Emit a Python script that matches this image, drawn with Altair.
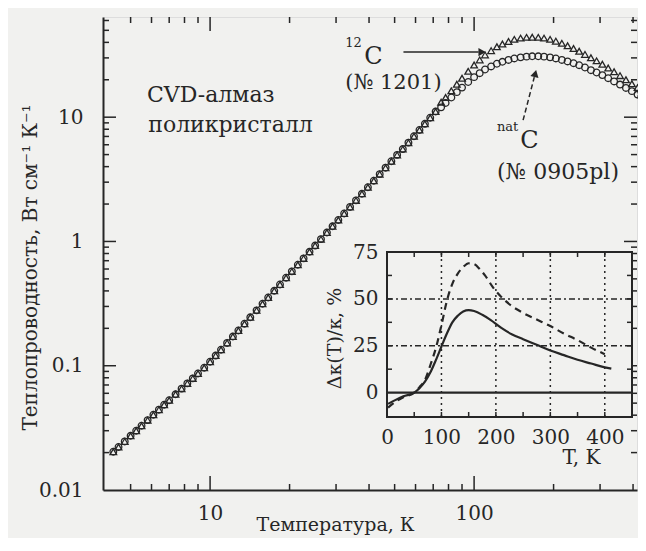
import altair as alt
import pandas as pd

SERIF = "DejaVu Serif, Liberation Serif, serif"
INK = "#262626"
BG = "#f1f1ef"

# ---------------- main plot: thermal conductivity vs temperature ----------------
# region where both samples coincide (T, K ; kappa, W cm^-1 K^-1)
T_low = [4.3, 4.5, 4.75, 5.0, 5.25, 5.5, 5.8, 6.1, 6.4, 6.7,
         7.0, 7.4, 7.8, 8.2, 8.6, 9.0, 9.5,
         10.0, 10.5, 11.0, 11.6, 12.2, 12.8, 13.5, 14.2, 15.0, 15.8,
         16.6, 17.5, 18.4, 19.4, 20.4, 21.5, 22.6, 23.8, 25.0, 26.3,
         27.7, 29.1, 30.6, 32.2, 33.9, 35.7, 37.6, 39.6, 41.7, 43.9,
         46.2, 48.6, 51.1, 53.7, 56.4, 59.2, 62.1, 65.1, 68.2, 71.5]
k_low = [0.0203, 0.0222, 0.0246, 0.0273, 0.0300, 0.0329, 0.0365, 0.0403, 0.0443, 0.0485,
         0.0528, 0.0589, 0.0654, 0.0721, 0.0791, 0.0866, 0.0963,
         0.1076, 0.1207, 0.1346, 0.1526, 0.1717, 0.1922, 0.2178, 0.2453, 0.2790, 0.3152,
         0.3540, 0.4007, 0.4509, 0.5106, 0.5745, 0.6499, 0.7308, 0.8256, 0.9266, 1.044,
         1.179, 1.324, 1.490, 1.680, 1.896, 2.141, 2.418, 2.732, 3.083, 3.481,
         3.924, 4.419, 4.972, 5.538, 6.241, 7.019, 7.884, 8.843, 9.901, 11.10]
# region where the curves separate
T_high = [75, 78, 82, 86, 90, 95, 100, 105, 110, 116, 122, 128, 135, 142, 150, 158, 166, 175,
          184, 194, 204, 215, 226, 238, 250, 263, 277, 291, 306, 322, 339, 357, 376, 396, 416, 430]
k12_high = [13.2, 14.4, 16.3, 18.4, 20.6, 23.4, 26.3, 28.9, 31.7, 34.3, 36.9, 38.8, 40.7, 42.3,
            43.3, 43.9, 44.0, 43.9, 43.3, 42.3, 40.9, 39.3, 37.6, 35.7, 33.9, 32.0, 30.1, 28.4,
            26.7, 24.9, 23.2, 21.6, 20.0, 18.6, 17.3, 16.6]
knat_high = [12.0, 13.0, 14.4, 15.9, 17.3, 19.2, 21.0, 22.6, 24.2, 25.6, 26.9, 27.9, 28.9, 29.7,
             30.3, 30.7, 30.9, 30.9, 30.7, 30.3, 29.7, 28.9, 28.1, 27.2, 26.2, 25.1, 23.9, 22.9,
             21.8, 20.6, 19.4, 18.3, 17.2, 16.2, 15.2, 14.6]

# ---------------- inset: relative difference, % ----------------
ins_T_solid = [2, 15, 30, 50, 60, 70, 80, 90, 100, 110, 120, 130, 140, 150, 160, 175, 190,
               210, 230, 250, 275, 300, 325, 350, 375, 400, 412]
ins_solid = [-6, -4, -2, 0, 2.5, 6, 11, 17.5, 24.6, 31.5, 37.5, 41, 43.3, 44, 43.5, 41.5, 38.8,
             34.5, 31, 28.5, 25.5, 22.5, 20, 17.5, 15.5, 13.5, 12.8]
ins_T_dash = [2, 15, 30, 50, 60, 70, 80, 90, 100, 110, 120, 130, 140, 150, 160, 170, 180,
              195, 210, 230, 250, 275, 300, 325, 350, 375, 400]
ins_dash = [-8, -5, -2.5, 0, 3, 7, 15, 24, 36, 49, 58, 63.5, 67, 69, 68.5, 66, 62.5,
            56, 51, 46, 42.5, 39, 35.5, 31.5, 28, 24, 20.5]

# ---------------- axes / ticks ----------------
x_dom = [3.93, 414]
y_dom = [0.01, 64]
x_labels = [10, 100]
y_labels = [0.01, 0.1, 1, 10]
x_minor = [5, 6, 7, 8, 9, 20, 30, 40, 50, 60, 70, 80, 90, 200, 300, 400]
x_major = [10, 100]
y_minor = [0.02, 0.03, 0.04, 0.05, 0.06, 0.07, 0.08, 0.09,
           0.2, 0.3, 0.4, 0.5, 0.6, 0.7, 0.8, 0.9,
           2, 3, 4, 5, 6, 7, 8, 9, 20, 30, 40, 50, 60]
y_major = [0.1, 1, 10]

ins_x_dom = [0, 450]
ins_y_dom = [-13, 75]
ins_x_labels = [0, 100, 200, 300, 400]
ins_y_labels = [0, 25, 50, 75]
ins_x_ticks = [50, 100, 150, 200, 250, 300, 350, 400]
ins_y_ticks = [12.5, 25, 37.5, 50, 62.5]
ins_vgrid = [100, 200, 300, 400]
ins_hgrid = [25, 50]

# annotations
ann_text = ["CVD-алмаз", "поликристалл", "12", "C", "(№ 1201)", "nat", "C", "(№ 0905pl)"]
ann_T = [5.77, 5.83, 32.5, 38.4, 32.5, 122, 149.5, 122]
ann_k = [15.0, 8.62, 39.5, 30.6, 18.9, 8.3, 6.4, 3.65]
ann_fs = [22, 22, 13, 24, 21, 13, 24, 22]

W, H = 534, 473
IX0, IX1 = 284, 529   # inset pixel range (x)
IY0, IY1 = 400, 235   # inset pixel range (y, bottom -> top)

xs = alt.Scale(type="log", domain=x_dom, nice=False)
ys = alt.Scale(type="log", domain=y_dom, nice=False)
xi = alt.Scale(domain=ins_x_dom, range=[IX0, IX1], nice=False, zero=False)
yi = alt.Scale(domain=ins_y_dom, range=[IY0, IY1], nice=False, zero=False)

common = dict(ticks=False, grid=False, labelFlush=False, labelFont=SERIF, titleFont=SERIF,
              labelColor=INK, titleColor=INK, titleFontWeight="normal",
              titleBaseline="middle")
x_axis = alt.Axis(orient="bottom", values=x_labels, format="~g", domainColor=INK, domainWidth=2,
                  labelFontSize=20, labelPadding=13, title="Температура, К", titleFontSize=19,
                  titleX=232, titleY=34, **common)
y_axis = alt.Axis(orient="left", values=y_labels, format="~g", domainColor=INK, domainWidth=2,
                  labelFontSize=20, labelPadding=20, title="Теплопроводность, Вт см⁻¹ К⁻¹",
                  titleFontSize=20, titleX=-73, titleY=250, **common)
xi_axis = alt.Axis(orient="bottom", offset=-(H - IY0), values=ins_x_labels, domain=False,
                   labelFontSize=20, labelPadding=10, title="T, K", titleFontSize=20,
                   titleX=478, titleY=40, **common)
yi_axis = alt.Axis(orient="left", offset=-IX0, values=ins_y_labels, domain=False,
                   labelFontSize=20, labelPadding=9, title="Δκ(T)/κ, %", titleFontSize=19,
                   titleX=-53, titleY=321, **common)


def MX(f):
    return alt.X(f, scale=xs, axis=x_axis)


def MY(f):
    return alt.Y(f, scale=ys, axis=y_axis)


def IX(f):
    return alt.X(f, scale=xi, axis=xi_axis)


def IY(f):
    return alt.Y(f, scale=yi, axis=yi_axis)


df_nat = pd.DataFrame({"T": T_low + T_high, "k": k_low + knat_high})
df_12 = pd.DataFrame({"T": T_low + T_high, "k": k_low + k12_high})

nat_pts = alt.Chart(df_nat).mark_point(shape="circle", filled=False, size=44, strokeWidth=1.3,
                                       color=INK, opacity=1).encode(x=MX("T:Q"), y=MY("k:Q"))
c12_pts = alt.Chart(df_12).mark_point(shape="triangle-up", filled=False, size=44, strokeWidth=1.3,
                                      color=INK, opacity=1).encode(x=MX("T:Q"), y=MY("k:Q"))

main_layers = [nat_pts, c12_pts]
for vals, ln in [(x_minor, 6), (x_major, 14)]:
    base = alt.Chart(pd.DataFrame({"T": vals})).mark_rule(color=INK, strokeWidth=1.5)
    main_layers.append(base.encode(x=MX("T:Q"), y=alt.value(H), y2=alt.value(H - ln)))
    main_layers.append(base.encode(x=MX("T:Q"), y=alt.value(0), y2=alt.value(ln)))
for vals, ln in [(y_minor, 6), (y_major, 13)]:
    base = alt.Chart(pd.DataFrame({"k": vals})).mark_rule(color=INK, strokeWidth=1.5)
    main_layers.append(base.encode(y=MY("k:Q"), x=alt.value(0), x2=alt.value(ln)))
    main_layers.append(base.encode(y=MY("k:Q"), x=alt.value(W), x2=alt.value(W - ln)))

ann = pd.DataFrame({"T": ann_T, "k": ann_k, "label": ann_text, "fs": ann_fs})
main_layers.append(alt.Chart(ann).mark_text(align="left", baseline="middle", font=SERIF,
                                            color=INK).encode(
    x=MX("T:Q"), y=MY("k:Q"), text="label:N", size=alt.Size("fs:Q", scale=None, legend=None)))

# arrows
arr1 = pd.DataFrame({"T": [54.0], "T2": [104.0], "k": [33.4], "k2": [33.4]})
main_layers.append(alt.Chart(arr1).mark_rule(color=INK, strokeWidth=1.5).encode(
    x=MX("T:Q"), x2="T2", y=MY("k:Q"), y2="k2"))
head1 = pd.DataFrame({"T": [107.2], "k": [33.4]})
main_layers.append(alt.Chart(head1).mark_point(shape="triangle-right", filled=True, size=70,
                                               color=INK, opacity=1).encode(
    x=MX("T:Q"), y=MY("k:Q")))
arr2 = pd.DataFrame({"T": [153.3], "T2": [169.0], "k": [9.46], "k2": [21.0]})
main_layers.append(alt.Chart(arr2).mark_rule(color=INK, strokeWidth=1.5, strokeDash=[5, 3]).encode(
    x=MX("T:Q"), x2="T2", y=MY("k:Q"), y2="k2"))
head2 = pd.DataFrame({"T": [170.5], "k": [22.5]})
main_layers.append(alt.Chart(head2).mark_point(shape="triangle-up", filled=True, size=70, angle=14,
                                               color=INK, opacity=1).encode(
    x=MX("T:Q"), y=MY("k:Q")))

main = alt.layer(*main_layers)

# ---------------- inset ----------------
frame_df = pd.DataFrame({"x0": [ins_x_dom[0]], "x1": [ins_x_dom[1]],
                         "y0": [ins_y_dom[0]], "y1": [ins_y_dom[1]]})
frame = alt.Chart(frame_df).mark_rect(fill=BG, stroke=INK, strokeWidth=2).encode(
    x=IX("x0:Q"), x2="x1", y=IY("y0:Q"), y2="y1")

inset_layers = [frame]
vg = pd.DataFrame({"T": ins_vgrid, "y0": ins_y_dom[0], "y1": ins_y_dom[1]})
inset_layers.append(alt.Chart(vg).mark_rule(color=INK, strokeWidth=1.5, strokeDash=[2, 4]).encode(
    x=IX("T:Q"), y=IY("y0:Q"), y2="y1"))
hg = pd.DataFrame({"d": ins_hgrid, "x0": ins_x_dom[0], "x1": ins_x_dom[1]})
inset_layers.append(alt.Chart(hg).mark_rule(color=INK, strokeWidth=1.5,
                                            strokeDash=[6, 3, 2, 3]).encode(
    y=IY("d:Q"), x=IX("x0:Q"), x2="x1"))
zero_df = pd.DataFrame({"d": [0], "x0": [ins_x_dom[0]], "x1": [ins_x_dom[1]]})
inset_layers.append(alt.Chart(zero_df).mark_rule(color=INK, strokeWidth=2.2).encode(
    y=IY("d:Q"), x=IX("x0:Q"), x2="x1"))
base = alt.Chart(pd.DataFrame({"T": ins_x_ticks})).mark_rule(color=INK, strokeWidth=1.5)
inset_layers.append(base.encode(x=IX("T:Q"), y=alt.value(IY0), y2=alt.value(IY0 - 5)))
inset_layers.append(base.encode(x=IX("T:Q"), y=alt.value(IY1), y2=alt.value(IY1 + 5)))
base = alt.Chart(pd.DataFrame({"d": ins_y_ticks})).mark_rule(color=INK, strokeWidth=1.5)
inset_layers.append(base.encode(y=IY("d:Q"), x=alt.value(IX0), x2=alt.value(IX0 + 5)))
inset_layers.append(base.encode(y=IY("d:Q"), x=alt.value(IX1), x2=alt.value(IX1 - 5)))

solid_df = pd.DataFrame({"T": ins_T_solid, "d": ins_solid})
dash_df = pd.DataFrame({"T": ins_T_dash, "d": ins_dash})
inset_layers.append(alt.Chart(dash_df).mark_line(color=INK, strokeWidth=2.2, strokeDash=[7, 5],
                                                 interpolate="monotone").encode(
    x=IX("T:Q"), y=IY("d:Q")))
inset_layers.append(alt.Chart(solid_df).mark_line(color=INK, strokeWidth=2.2,
                                                  interpolate="monotone").encode(
    x=IX("T:Q"), y=IY("d:Q")))

inset = alt.layer(*inset_layers)

chart = alt.layer(main, inset).resolve_scale(x="independent", y="independent").properties(
    width=W, height=H, background=BG,
    padding={"left": 95, "top": 9, "right": 1, "bottom": 48},
    autosize=alt.AutoSizeParams(type="none"),
).configure_view(stroke=INK, strokeWidth=2).configure_axis(
    labelFont=SERIF, titleFont=SERIF, labelColor=INK, titleColor=INK, titleFontWeight="normal"
).configure_text(font=SERIF).configure(font=SERIF)

chart.save("out.html", embed_options={"renderer": "svg", "actions": False})
